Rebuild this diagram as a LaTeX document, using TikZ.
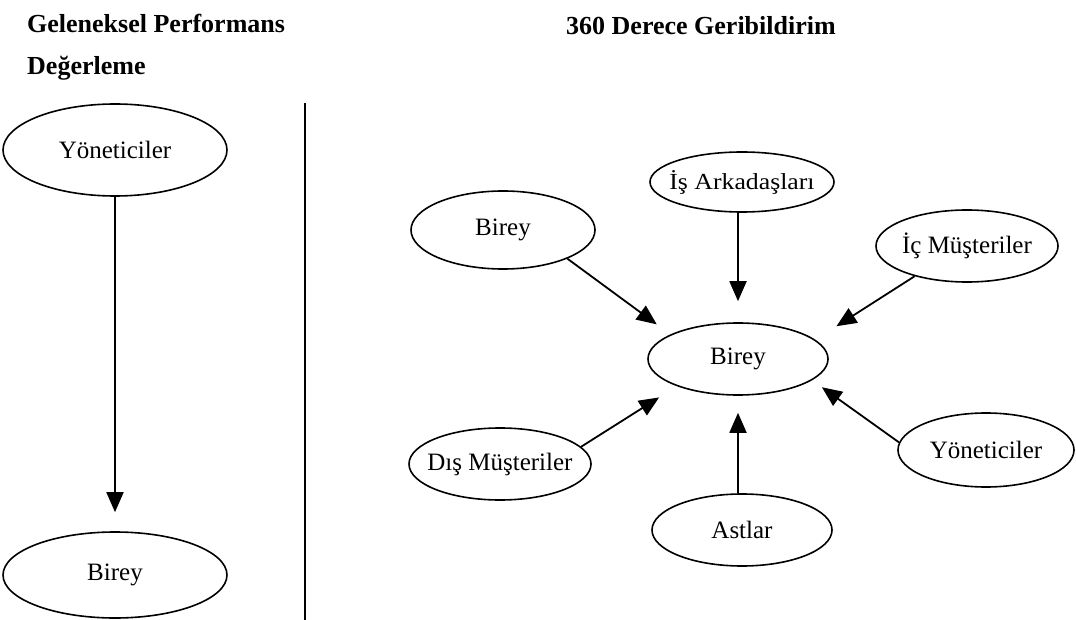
\documentclass[tikz,border=0pt]{standalone}
\usepackage{fontspec}
\setmainfont{Liberation Serif}
\usetikzlibrary{arrows.meta,shapes.geometric}

% text that may run wider than its ellipse would allow
\newcommand{\ovtext}[1]{\makebox[0pt]{#1}}

\begin{document}
\begin{tikzpicture}[x=1pt, y=-1pt,
    oval/.style={draw, ellipse, line width=1.6pt, inner sep=0pt, font=\fontsize{25}{30}\selectfont},
    wide/.style={font=\fontsize{23}{27}\selectfont\addfontfeature{FakeStretch=1.12}},
    arr/.style={-{Triangle[length=20pt,width=17pt]}, line width=1.8pt},
    title/.style={anchor=base west, inner sep=0pt, font=\fontsize{26}{31}\selectfont\bfseries}]
    \useasboundingbox (0,0) rectangle (1076,620);

    % Titles
    \node[title] (t1) at (27,33) {Geleneksel Performans};
    \node[title] (t2) at (27,75) {Değerleme};
    \node[title] (t3) at (566,35) {360 Derece Geribildirim};

    % Traditional: top-down
    \node[oval, minimum width=224pt, minimum height=92pt] (yonL) at (115,150) {Yöneticiler};
    \node[oval, minimum width=224pt, minimum height=86pt] (bireyL) at (115,575) {Birey};
    \draw[arr, shorten >=19pt] (yonL.south) -- (bireyL.north);

    % Divider
    \coordinate (d1) at (305,103);
    \coordinate (d2) at (305,620);
    \draw[line width=1.3pt] (d1) -- (d2);

    % 360 degree: everyone around the person
    \node[oval, minimum width=180pt, minimum height=72pt] (bireyM) at (738,359) {Birey};
    \node[oval, wide, minimum width=184pt, minimum height=60pt] (is) at (742,182) {\ovtext{İş Arkadaşları}};
    \node[oval, minimum width=184pt, minimum height=78pt] (bireyTL) at (503,230) {Birey};
    \node[oval, minimum width=182pt, minimum height=72pt] (ic) at (967,246) {\ovtext{İç Müşteriler}};
    \node[oval, minimum width=182pt, minimum height=72pt] (dis) at (500,464) {\ovtext{Dış Müşteriler}};
    \node[oval, minimum width=176pt, minimum height=74pt] (yonR) at (986,450) {Yöneticiler};
    \node[oval, minimum width=180pt, minimum height=72pt] (astlar) at (742,530) {Astlar};

    \draw[arr, shorten >=21pt] (is.south -| bireyM.north) -- (bireyM.north);
    \draw[arr, shorten >=17pt] (bireyTL.-24) -- (bireyM.160);
    \draw[arr, shorten >=25pt] (ic.-150) -- (bireyM.14);
    \draw[arr, shorten >=21pt] (dis.12) -- (bireyM.-156);
    \draw[arr, shorten >=12pt] (yonR.175) -- (bireyM.-16);
    \draw[arr, shorten >=17pt] (astlar.north -| bireyM.south) -- (bireyM.south);
\end{tikzpicture}
\end{document}
